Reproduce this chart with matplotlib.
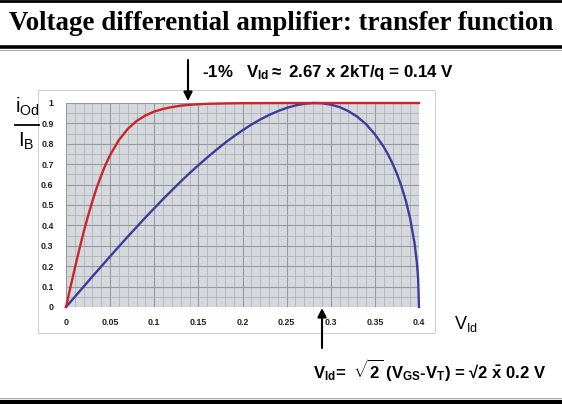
import matplotlib.pyplot as plt
import matplotlib.ticker as mticker
from matplotlib.patches import Rectangle
from matplotlib.lines import Line2D

W, H = 562, 404

# values
VID_RED = [0, 0.005, 0.01, 0.015, 0.02, 0.025, 0.03, 0.035, 0.04, 0.045, 0.05,
           0.06, 0.07, 0.08, 0.09, 0.10, 0.11, 0.12, 0.13, 0.14, 0.15, 0.16,
           0.18, 0.20, 0.25, 0.30, 0.35, 0.40]
IOD_RED = [0, 0.096, 0.190, 0.281, 0.367, 0.447, 0.520, 0.587, 0.646, 0.699, 0.745,
           0.819, 0.873, 0.912, 0.939, 0.958, 0.971, 0.980, 0.987, 0.991, 0.994, 0.996,
           0.998, 0.999, 1.0, 1.0, 1.0, 1.0]

VID_BLUE = [0, 0.01, 0.02, 0.03, 0.04, 0.05, 0.06, 0.07, 0.08, 0.09, 0.10,
            0.11, 0.12, 0.13, 0.14, 0.15, 0.16, 0.17, 0.18, 0.19, 0.20,
            0.21, 0.22, 0.23, 0.24, 0.25, 0.26, 0.27, 0.28, 0.29, 0.30,
            0.31, 0.32, 0.33, 0.34, 0.35, 0.36, 0.365, 0.37, 0.375, 0.38, 0.385,
            0.39, 0.395, 0.3975, 0.399, 0.40]
IOD_BLUE = [0, 0.050, 0.100, 0.150, 0.199, 0.248, 0.297, 0.345, 0.392, 0.439, 0.484,
            0.529, 0.572, 0.615, 0.656, 0.695, 0.733, 0.769, 0.804, 0.836, 0.866,
            0.894, 0.919, 0.941, 0.960, 0.976, 0.988, 0.996, 1.000, 0.999, 0.992,
            0.980, 0.960, 0.933, 0.896, 0.847, 0.785, 0.747, 0.703, 0.653, 0.593, 0.522,
            0.433, 0.311, 0.222, 0.141, 0]

X_TICKS = [0, 0.05, 0.1, 0.15, 0.2, 0.25, 0.3, 0.35, 0.4]
X_LABELS = ["0", "0.05", "0.1", "0.15", "0.2", "0.25", "0.3", "0.35", "0.4"]
Y_TICKS = [0, 0.1, 0.2, 0.3, 0.4, 0.5, 0.6, 0.7, 0.8, 0.9, 1.0]
Y_LABELS = ["0", "0.1", "0.2", "0.3", "0.4", "0.5", "0.6", "0.7", "0.8", "0.9", "1"]

plt.rcParams.update({
    "font.family": "Liberation Sans",
    "mathtext.fontset": "custom",
    "mathtext.rm": "Liberation Sans:bold",
    "mathtext.it": "Liberation Sans:bold",
    "mathtext.bf": "Liberation Sans:bold",
    "mathtext.sf": "Liberation Sans",
})


def fx(x):
    return x / W


def fy(y):
    return 1 - y / H


fig = plt.figure(figsize=(W / 100, H / 100), dpi=100)
fig.patch.set_facecolor("white")

# horizontal rules
for y, lw, c in [(1, 2.0, "black"), (46.5, 2.6, "black"), (49.5, 0.6, "#999999"),
                 (398, 0.6, "#999999"), (402, 3.0, "black")]:
    fig.add_artist(Line2D([0, 1], [fy(y), fy(y)], transform=fig.transFigure,
                          color=c, lw=lw))

fig.text(0.5, fy(23), "Voltage differential amplifier: transfer function",
         family="Liberation Serif", fontweight="bold", fontsize=19.4,
         ha="center", va="center")

# chart frame
fig.add_artist(Rectangle((fx(38), fy(333)), fx(435) - fx(38), fy(90) - fy(333),
                         transform=fig.transFigure, facecolor="white",
                         edgecolor="#d0d0d0", lw=0.8, zorder=-1))

ax = fig.add_axes([fx(66), fy(307), fx(419) - fx(66), fy(103) - fy(307)])
ax.set_zorder(2)
ax.set_facecolor("#d5d8dc")
ax.set_xlim(0, 0.4)
ax.set_ylim(0, 1)
ax.xaxis.set_major_locator(mticker.FixedLocator(X_TICKS))
ax.xaxis.set_major_formatter(mticker.FixedFormatter(X_LABELS))
ax.yaxis.set_major_locator(mticker.FixedLocator(Y_TICKS))
ax.yaxis.set_major_formatter(mticker.FixedFormatter(Y_LABELS))
ax.xaxis.set_minor_locator(mticker.MultipleLocator(0.01))
ax.yaxis.set_minor_locator(mticker.MultipleLocator(0.05))
ax.grid(which="minor", color="#afb3b8", lw=0.6)
ax.grid(which="major", color="#969aa0", lw=0.8)
ax.set_axisbelow(True)
ax.tick_params(which="both", length=0, labelsize=6.4, colors="#222222")
ax.tick_params(axis="x", pad=8)
ax.tick_params(axis="y", pad=9)
for lab in ax.get_xticklabels() + ax.get_yticklabels():
    lab.set_fontweight("bold")
for s in ax.spines.values():
    s.set_visible(False)

ax.plot(VID_BLUE, IOD_BLUE, color="#3c3c9a", lw=1.7, clip_on=False, zorder=3)
ax.plot(VID_RED, IOD_RED, color="#c8262c", lw=1.7, clip_on=False, zorder=4)

# y label as a fraction
fig.text(fx(27), fy(107), r"i$_{\mathsf{Od}}$", fontsize=14.5, ha="center", va="center")
fig.add_artist(Line2D([fx(15), fx(39)], [fy(125), fy(125)], transform=fig.transFigure,
                      color="black", lw=1.3))
fig.text(fx(26), fy(141), r"I$_{\mathsf{B}}$", fontsize=14.5, ha="center", va="center")

# x label
fig.text(fx(454), fy(324), r"V$_{\mathsf{Id}}$", fontsize=13, ha="left", va="center")

# annotations
arrow = dict(arrowstyle="-|>", color="black", lw=1.5, mutation_scale=13,
             shrinkA=0, shrinkB=0)
fig.add_artist(plt.Annotation("", xy=(fx(188), fy(101)), xytext=(fx(188), fy(60)),
                              xycoords="figure fraction", textcoords="figure fraction",
                              arrowprops=arrow))
fig.text(fx(202), fy(72), r"-1%   V$_{Id}$$\approx$ 2.67 x 2kT/q = 0.14 V",
         fontsize=12.2, fontweight="bold", ha="left", va="center")

fig.add_artist(plt.Annotation("", xy=(fx(322), fy(308)), xytext=(fx(322), fy(348)),
                              xycoords="figure fraction", textcoords="figure fraction",
                              arrowprops=arrow))
fig.text(fx(313), fy(370),
         r"V$_{Id}$=  $\sqrt{2}$ (V$_{GS}$-V$_{T}$) = √2 $\bar{x}$ 0.2 V",
         fontsize=12, fontweight="bold", ha="left", va="center")

fig.savefig("out.png", dpi=100, facecolor="white")
